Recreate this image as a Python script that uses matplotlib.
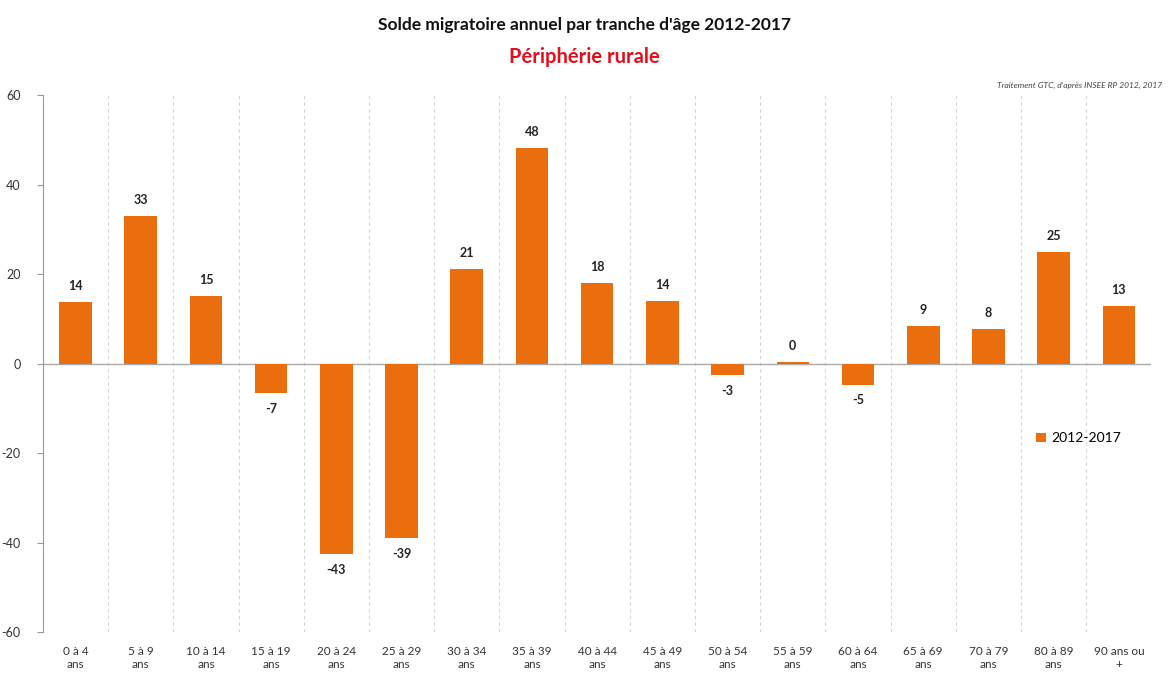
import matplotlib
matplotlib.use("Agg")
import matplotlib.pyplot as plt
import numpy as np

plt.rcParams['font.family'] = ['Lato', 'DejaVu Sans']
plt.rcParams['axes.unicode_minus'] = False

categories = ["0 à 4\nans", "5 à 9\nans", "10 à 14\nans", "15 à 19\nans", "20 à 24\nans",
              "25 à 29\nans", "30 à 34\nans", "35 à 39\nans", "40 à 44\nans", "45 à 49\nans",
              "50 à 54\nans", "55 à 59\nans", "60 à 64\nans", "65 à 69\nans", "70 à 79\nans",
              "80 à 89\nans", "90 ans ou\n+"]
values = [13.8, 33.0, 15.2, -6.5, -42.5, -39.0, 21.2, 48.2, 18.0, 14.0, -2.5, 0.3, -4.7, 8.5, 7.7, 25.0, 12.8]
labels = ["14", "33", "15", "-7", "-43", "-39", "21", "48", "18", "14", "-3", "0", "-5", "9", "8", "25", "13"]
series_name = "2012-2017"

bar_color = "#EA6E0E"

fig = plt.figure(figsize=(11.68, 6.75), dpi=100)
ax = fig.add_axes([0.0368, 0.0637, 0.949, 0.7953])

x = np.arange(len(categories))
ax.bar(x, values, width=0.5, color=bar_color, label=series_name, zorder=3)

for xi, v, lab in zip(x, values, labels):
    if v >= 0:
        ax.text(xi, v + 2.2, lab, ha='center', va='bottom', fontsize=9, fontweight='bold', color='#222222')
    else:
        ax.text(xi, v - 2.2, lab, ha='center', va='top', fontsize=9, fontweight='bold', color='#222222')

ax.set_xlim(-0.5, len(categories) - 0.5)
ax.set_ylim(-60, 60)
ax.set_yticks(np.arange(-60, 61, 20))
ax.set_xticks(x)
ax.set_xticklabels(categories, fontsize=8.5, color='#333333', linespacing=1.25)
ax.tick_params(axis='x', length=0, pad=10)
ax.tick_params(axis='y', labelsize=9, color='#999999', labelcolor='#333333', length=4, pad=12)

for b in np.arange(0.5, len(categories) - 0.5 + 0.01, 1.0):
    ax.axvline(b, color='#d4d4d4', linestyle=(0, (3, 3)), linewidth=0.8, zorder=1)
ax.axhline(0, color='#aaaaaa', linewidth=1.0, zorder=2)

for s in ['top', 'right', 'bottom']:
    ax.spines[s].set_visible(False)
ax.spines['left'].set_color('#999999')

leg = ax.legend(loc='upper left', bbox_to_anchor=(0.885, 0.395), frameon=False, fontsize=10,
                handlelength=0.7, handleheight=0.7, handletextpad=0.4)

fig.text(0.5, 0.963, "Solde migratoire annuel par tranche d'âge 2012-2017", ha='center', va='center',
         fontsize=12.5, fontweight='bold', color='#111111')
fig.text(0.5, 0.915, "Périphérie rurale", ha='center', va='center',
         fontsize=14.5, fontweight='bold', color='#E0101E')
fig.text(0.995, 0.874, "Traitement GTC, d'après INSEE RP 2012, 2017", ha='right', va='center',
         fontsize=6, style='italic', color='#444444')

fig.savefig("out.png", dpi=100)
